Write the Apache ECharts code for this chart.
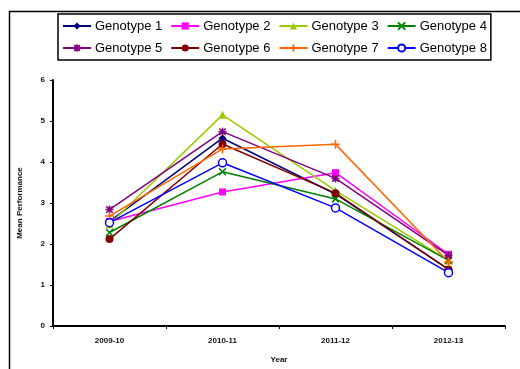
<!DOCTYPE html>
<html>
<head>
<meta charset="utf-8">
<script src="https://cdn.jsdelivr.net/npm/echarts@6/dist/echarts.min.js"></script>
<style>
  html, body { margin: 0; padding: 0; background: #fff; }
  #chart { width: 520px; height: 369px; }
</style>
</head>
<body>
<div id="chart"></div>
<script>
// Seasons on the category axis
const years = ['2009-10', '2010-11', '2011-12', '2012-13'];
const yTicks = [0, 1, 2, 3, 4, 5, 6];

// Mean performance of each genotype per season
const genotype1 = [2.55, 4.58, 3.22, 1.38];
const genotype2 = [2.55, 3.27, 3.74, 1.75];
const genotype3 = [2.48, 5.15, 3.30, 1.60];
const genotype4 = [2.28, 3.76, 3.10, 1.60];
const genotype5 = [2.84, 4.74, 3.60, 1.72];
const genotype6 = [2.12, 4.44, 3.24, 1.38];
const genotype7 = [2.68, 4.32, 4.43, 1.56];
const genotype8 = [2.52, 3.98, 2.88, 1.30];

const seriesNames = ['Genotype 1', 'Genotype 2', 'Genotype 3', 'Genotype 4',
                     'Genotype 5', 'Genotype 6', 'Genotype 7', 'Genotype 8'];
const seriesValues = [genotype1, genotype2, genotype3, genotype4,
                      genotype5, genotype6, genotype7, genotype8];
const seriesColors = ['#000080', '#FF00FF', '#99CC00', '#008000',
                      '#800080', '#800000', '#FF6600', '#0000FF'];

// Excel-like marker shapes
const xPath = 'path://M0,0 L10,10 M10,0 L0,10';
const starPath = 'path://M5,0 L5,10 M0,5 L10,5 M1,1 L9,9 M9,1 L1,9';
const plusPath = 'path://M5,0 L5,10 M0,5 L10,5';
const markers = [
  { symbol: 'diamond', size: 8, fill: true },
  { symbol: 'rect', size: 7, fill: true },
  { symbol: 'triangle', size: 8, fill: true },
  { symbol: xPath, size: 7, fill: false },
  { symbol: starPath, size: 8, fill: false },
  { symbol: 'circle', size: 8, fill: true },
  { symbol: plusPath, size: 9, fill: false },
  { symbol: 'circle', size: 8, fill: false }
];

const series = seriesNames.map((name, i) => ({
  name: name,
  type: 'line',
  data: seriesValues[i],
  symbol: markers[i].symbol,
  symbolSize: markers[i].size,
  showAllSymbol: true,
  lineStyle: { color: seriesColors[i], width: 1.5 },
  itemStyle: {
    color: markers[i].fill ? seriesColors[i] : '#ffffff',
    borderColor: seriesColors[i],
    borderWidth: markers[i].fill ? 0 : 1.5
  },
  emphasis: { disabled: true },
  animation: false
}));

const labelFont = { fontFamily: 'Liberation Sans', fontWeight: 'bold', fontSize: 8, color: '#111' };

const chart = echarts.init(document.getElementById('chart'), null, { renderer: 'canvas' });
chart.setOption({
  backgroundColor: '#ffffff',
  animation: false,
  graphic: [{
    type: 'rect',
    shape: { x: 9.5, y: 11.5, width: 620, height: 420 },
    style: { fill: 'none', stroke: '#000', lineWidth: 1.5 },
    silent: true,
    z: 0
  }],
  legend: {
    left: 58,
    top: 14,
    width: 430,
    padding: [5, 4, 5, 4],
    itemGap: 8,
    itemWidth: 28,
    itemHeight: 9,
    borderColor: '#000',
    borderWidth: 1.5,
    backgroundColor: '#fff',
    selectedMode: false,
    data: seriesNames,
    textStyle: { fontFamily: 'Liberation Sans', fontSize: 13, lineHeight: 14, color: '#000', padding: [0, 0, 0, -1] }
  },
  grid: { left: 53, right: 15, top: 80, bottom: 42, containLabel: false },
  xAxis: {
    type: 'category',
    data: years,
    boundaryGap: true,
    name: 'Year',
    nameLocation: 'middle',
    nameGap: 30,
    nameTextStyle: labelFont,
    axisLine: { lineStyle: { color: '#000', width: 2 } },
    axisTick: { show: true, length: 3, lineStyle: { color: '#000', width: 1 } },
    axisLabel: Object.assign({ margin: 11 }, labelFont),
    splitLine: { show: false }
  },
  yAxis: {
    type: 'value',
    min: yTicks[0],
    max: yTicks[yTicks.length - 1],
    interval: 1,
    name: 'Mean Performance',
    nameLocation: 'middle',
    nameGap: 29,
    nameTextStyle: labelFont,
    axisLine: { show: true, lineStyle: { color: '#000', width: 2 } },
    axisTick: { show: true, length: 3, lineStyle: { color: '#000', width: 1 } },
    axisLabel: Object.assign({ margin: 8 }, labelFont),
    splitLine: { show: false }
  },
  series: series
});
</script>
</body>
</html>
